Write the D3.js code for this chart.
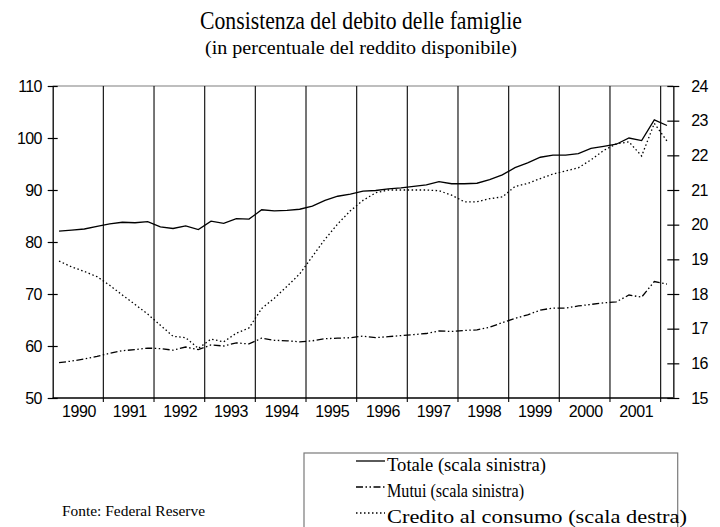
<!DOCTYPE html>
<html>
<head>
<meta charset="utf-8">
<script src="https://cdn.jsdelivr.net/npm/d3@7"></script>
<style>
  body { margin: 0; background: #fff; }
  svg { display: block; }
</style>
</head>
<body>
<div id="chart-container"></div>
<script>
// quarterly data, 1990Q1 - 2002Q1
const years = [1990, 1991, 1992, 1993, 1994, 1995, 1996, 1997, 1998, 1999, 2000, 2001];
const quarters = years.flatMap(y => [1, 2, 3, 4].map(q => y + "Q" + q)).concat(["2002Q1"]);

const totale = [
  82.1, 82.3, 82.5, 83.0, 83.5, 83.8, 83.7, 83.9, 82.9, 82.6, 83.1, 82.4,
  84.0, 83.6, 84.5, 84.4, 86.2, 86.0, 86.1, 86.3, 86.9, 88.0, 88.8, 89.2,
  89.8, 89.9, 90.2, 90.4, 90.7, 91.0, 91.6, 91.2, 91.2, 91.3, 92.0, 92.9,
  94.3, 95.2, 96.3, 96.7, 96.7, 97.0, 98.0, 98.4, 98.8, 100.0, 99.5, 103.5,
  102.4
];
const mutui = [
  56.8, 57.1, 57.5, 58.0, 58.6, 59.1, 59.3, 59.6, 59.5, 59.2, 59.8, 59.3,
  60.2, 60.0, 60.6, 60.4, 61.5, 61.1, 61.0, 60.8, 61.0, 61.4, 61.5, 61.6,
  61.9, 61.6, 61.8, 62.0, 62.2, 62.4, 62.9, 62.8, 63.0, 63.1, 63.6, 64.5,
  65.3, 66.0, 66.9, 67.3, 67.3, 67.7, 68.0, 68.3, 68.5, 69.8, 69.4, 72.4,
  71.9
];
// right scale
const credito = [
  18.95, 18.78, 18.65, 18.50, 18.25, 17.97, 17.70, 17.42, 17.10, 16.78, 16.74, 16.43,
  16.70, 16.62, 16.87, 17.02, 17.58, 17.88, 18.22, 18.58, 19.08, 19.58, 20.02, 20.40,
  20.70, 20.92, 21.00, 21.00, 21.00, 21.00, 20.98, 20.85, 20.66, 20.66, 20.75, 20.80,
  21.10, 21.19, 21.33, 21.46, 21.55, 21.64, 21.87, 22.14, 22.33, 22.39, 21.98, 22.92,
  22.41
];

const leftTicks = [50, 60, 70, 80, 90, 100, 110];
const rightTicks = [15, 16, 17, 18, 19, 20, 21, 22, 23, 24];

const W = 720, H = 527;
const plot = {left: 52.7, right: 673.3, top: 86, bottom: 398};
const serif = "'Liberation Serif', 'Times New Roman', serif";
const sans = "'Liberation Sans', Arial, sans-serif";

const svg = d3.select("#chart-container")
    .append("svg")
    .attr("width", W)
    .attr("height", H);

const x = d3.scaleBand()
    .domain(quarters)
    .range([plot.left, plot.right])
    .padding(0);
const bw = x.bandwidth();
const px = i => x(quarters[i]) + bw / 2;

const yL = d3.scaleLinear().domain([50, 110]).range([plot.bottom, plot.top]);
const yR = d3.scaleLinear().domain([15, 24]).range([plot.bottom, plot.top]);

// titles (condensed like the original)
svg.append("text")
    .attr("x", 200).attr("y", 29)
    .attr("textLength", 322).attr("lengthAdjust", "spacingAndGlyphs")
    .style("font-family", serif)
    .style("font-size", "25px")
    .text("Consistenza del debito delle famiglie");

svg.append("text")
    .attr("x", 205).attr("y", 54)
    .attr("textLength", 312).attr("lengthAdjust", "spacingAndGlyphs")
    .style("font-family", serif)
    .style("font-size", "19px")
    .text("(in percentuale del reddito disponibile)");

// top border
svg.append("line")
    .attr("x1", plot.left).attr("x2", plot.right)
    .attr("y1", plot.top).attr("y2", plot.top)
    .attr("stroke", "#a8a8a8").attr("stroke-width", 1.3);

// year separators
const seps = years.slice(1).map(y => x(y + "Q1")).concat([x("2002Q1")]);
svg.append("g")
    .selectAll("line")
    .data(seps)
    .join("line")
    .attr("x1", d => d).attr("x2", d => d)
    .attr("y1", plot.top).attr("y2", plot.bottom + 4)
    .attr("stroke", "#1a1a1a")
    .attr("stroke-width", 1.2);

// bottom axis line
svg.append("line")
    .attr("x1", plot.left).attr("x2", plot.right)
    .attr("y1", plot.bottom).attr("y2", plot.bottom)
    .attr("stroke", "#000").attr("stroke-width", 1.3);

// year labels
svg.append("g")
    .selectAll("text")
    .data(years)
    .join("text")
    .attr("x", d => x(d + "Q1") + 2 * bw + 1)
    .attr("y", 417)
    .attr("text-anchor", "middle")
    .style("font-family", sans)
    .style("font-size", "16px")
    .style("letter-spacing", "-0.4px")
    .text(d => d);

// left axis
const gL = svg.append("g")
    .attr("transform", `translate(${plot.left},0)`)
    .call(d3.axisLeft(yL).tickValues(leftTicks).tickSizeInner(5).tickSizeOuter(0).tickPadding(6));
gL.select(".domain").attr("stroke", "#000").attr("stroke-width", 1.3);
gL.selectAll(".tick line").attr("x1", 5).attr("stroke-width", 1.2);
gL.selectAll(".tick text")
    .style("font-family", sans)
    .style("font-size", "16px")
    .style("letter-spacing", "-0.7px")
    .attr("fill", "#000");

// right axis
const gR = svg.append("g")
    .attr("transform", `translate(${plot.right},0)`)
    .call(d3.axisRight(yR).tickValues(rightTicks).tickSizeInner(6).tickSizeOuter(0).tickPadding(12));
gR.select(".domain").attr("stroke", "#333").attr("stroke-width", 1.6);
gR.selectAll(".tick line").attr("x1", -6).attr("stroke-width", 1.2);
gR.selectAll(".tick text")
    .style("font-family", sans)
    .style("font-size", "16px")
    .style("letter-spacing", "-0.7px")
    .attr("fill", "#000");

// series
const series = [
  {name: "Totale (scala sinistra)", values: totale, y: yL, dash: null, len: 159},
  {name: "Mutui (scala sinistra)", values: mutui, y: yL, dash: "7,2.5,1.5,2.5,1.5,2.5", len: 137},
  {name: "Credito al consumo (scala destra)", values: credito, y: yR, dash: "1.5,2.5", len: 300}
];

series.forEach(s => {
  const line = d3.line()
      .x((d, i) => px(i))
      .y(d => s.y(d));
  svg.append("path")
      .datum(s.values)
      .attr("fill", "none")
      .attr("stroke", "#000")
      .attr("stroke-width", 1.3)
      .attr("stroke-dasharray", s.dash)
      .attr("d", line);
});

// legend
const lg = svg.append("g");
lg.append("rect")
    .attr("x", 304).attr("y", 453)
    .attr("width", 373.7).attr("height", 90)
    .attr("fill", "#fff")
    .attr("stroke", "#7a7a7a")
    .attr("stroke-width", 1.2);

const rowY = [461, 487, 513];
series.forEach((s, i) => {
  const cy = rowY[i];
  lg.append("line")
      .attr("x1", 356).attr("x2", 385)
      .attr("y1", cy).attr("y2", cy)
      .attr("stroke", "#000")
      .attr("stroke-width", 1.3)
      .attr("stroke-dasharray", s.dash);
  lg.append("text")
      .attr("x", 387).attr("y", cy + 10)
      .attr("textLength", s.len).attr("lengthAdjust", "spacingAndGlyphs")
      .style("font-family", serif)
      .style("font-size", "18px")
      .text(s.name);
});

svg.append("text")
    .attr("x", 62).attr("y", 516)
    .attr("textLength", 143).attr("lengthAdjust", "spacingAndGlyphs")
    .style("font-family", serif)
    .style("font-size", "15px")
    .text("Fonte: Federal Reserve");
</script>
</body>
</html>
